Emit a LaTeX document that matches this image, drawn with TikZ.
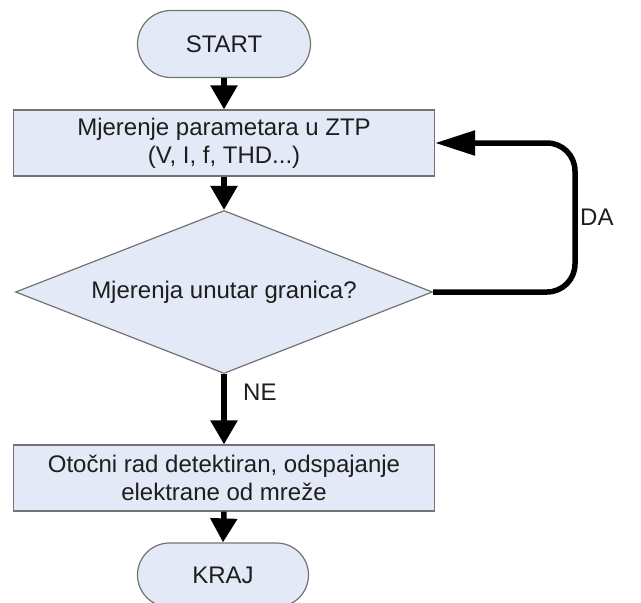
\documentclass[tikz,border=0pt]{standalone}
\usepackage{fontspec}
\setmainfont{Liberation Sans}
\usetikzlibrary{shapes.geometric,shapes.misc,arrows.meta}
\definecolor{boxfill}{RGB}{227,233,246}
\definecolor{boxline}{RGB}{115,115,115}
\definecolor{txt}{RGB}{30,30,30}
\tikzset{
  base/.style={draw=boxline, fill=boxfill, line width=1.2pt, text=txt,
    font=\fontsize{24pt}{28pt}\selectfont, inner sep=0pt, align=center},
  termbox/.style={base, rounded rectangle, minimum width=173pt, minimum height=67pt},
  procbox/.style={base, rectangle, minimum width=421pt, minimum height=66pt},
  decbox/.style={base, diamond, aspect=2.56, minimum width=417pt, minimum height=163pt},
  flow/.style={line width=5.5pt, draw=black, -{Triangle[width=26pt,length=24pt]}},
  loopflow/.style={line width=5.5pt, draw=black, rounded corners=28pt, -{Triangle[width=24pt,length=40pt]}},
  lbl/.style={text=txt, font=\fontsize{24pt}{28pt}\selectfont, inner sep=0pt}
}
\begin{document}
\begin{tikzpicture}[x=1pt,y=-1pt]
\useasboundingbox (0,0) rectangle (641,603);
\node[termbox] (start) at (224,44) {START};
\node[procbox] (meas) at (224,143) {Mjerenje parametara u ZTP\\(V, I, f, THD...)};
\node[decbox] (dec) at (224,292) {Mjerenja unutar granica?};
\node[procbox] (isl) at (224,478) {Otočni rad detektiran, odspajanje\\elektrane od mreže};
\node[termbox, minimum width=171pt, minimum height=64pt] (end) at (223,575) {KRAJ};
\coordinate (loopx) at (575,0);
\node[lbl, anchor=west] (da) at (580,217) {DA};
\node[lbl, anchor=west] (ne) at (243,392) {NE};
\draw[flow] (start.south) -- (meas.north);
\draw[flow] (meas.south) -- (dec.north);
\draw[flow] (dec.south) -- (isl.north);
\draw[flow] (isl.south) -- (end.north);
\draw[loopflow] (dec.east) -- (dec.east -| loopx) -- (meas.east -| loopx) -- (meas.east);
\end{tikzpicture}
\end{document}
